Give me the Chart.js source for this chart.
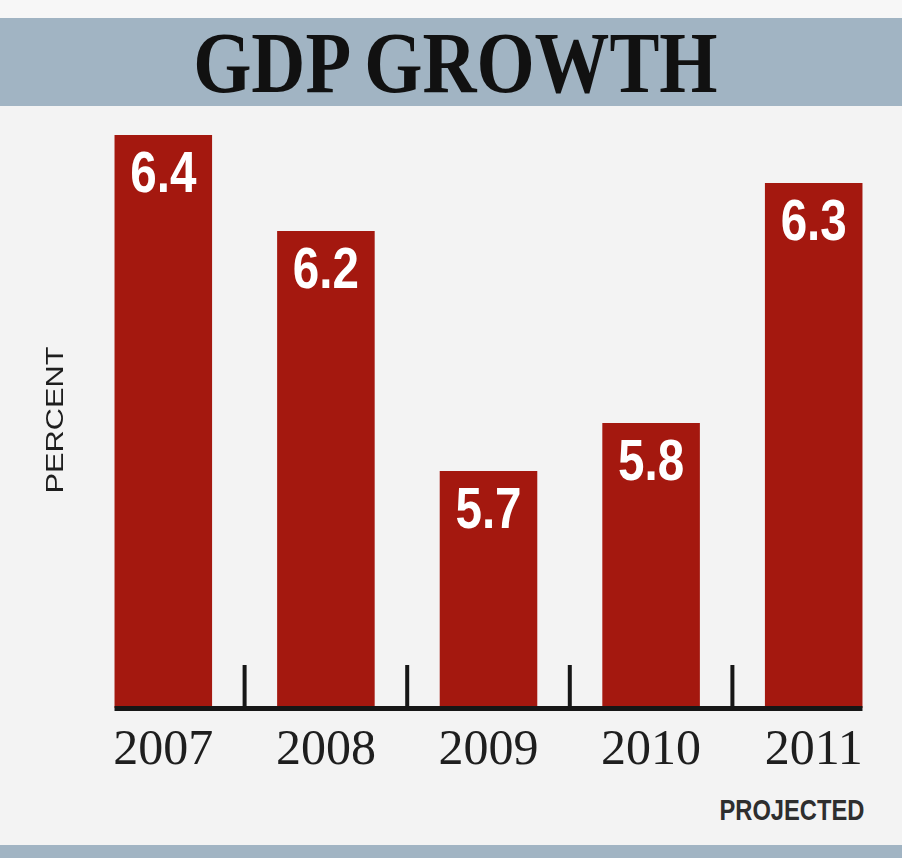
<!DOCTYPE html>
<html>
<head>
<meta charset="utf-8">
<script src="https://cdn.jsdelivr.net/npm/chart.js@4"></script>
<style>
  html, body { margin: 0; padding: 0; }
  body { width: 902px; height: 858px; background: #f3f3f3; position: relative; overflow: hidden; }
  #topstrip { position: absolute; left: 0; top: 0; width: 902px; height: 18px; background: #f7f7f7; }
  #band { position: absolute; left: 0; top: 18px; width: 902px; height: 88px; background: #a1b4c3; }
  #title { position: absolute; left: 0; top: 20px; width: 902px; text-align: center; margin: 0;
    font-family: "Liberation Serif", "DejaVu Serif", serif; font-weight: bold; font-size: 86px; line-height: 86px;
    color: #111; word-spacing: -0.02em; }
  #title span { display: inline-block; transform: scaleX(0.87); transform-origin: center; position: relative; left: 4px; }
  #bottomband { position: absolute; left: 0; top: 845px; width: 902px; height: 13px; background: #a1b4c3; }
  #projected { position: absolute; right: 38px; top: 795px; font-family: "Liberation Sans", sans-serif;
    font-size: 30px; line-height: 30px; color: #2e2e2e; font-weight: bold;
    transform: scaleX(0.79); transform-origin: right center; }
  #wrap { position: absolute; left: 0; top: 0; width: 902px; height: 858px; }
</style>
</head>
<body>
<div id="topstrip"></div>
<div id="band"></div>
<h1 id="title"><span>GDP GROWTH</span></h1>
<div id="bottomband"></div>
<div id="projected">PROJECTED</div>
<div id="wrap"><canvas id="c"></canvas></div>
<script>
const years = ["2007", "2008", "2009", "2010", "2011"];
const growth = [6.4, 6.2, 5.7, 5.8, 6.3];
const valueLabels = ["6.4", "6.2", "5.7", "5.8", "6.3"];
const yAxisLabel = "PERCENT";

const barColor = "#a4180f";

const decorPlugin = {
  id: "decor",
  afterDatasetsDraw(chart) {
    const ctx = chart.ctx;
    const meta = chart.getDatasetMeta(0);
    const xs = chart.scales.x;
    const area = chart.chartArea;
    // value labels inside bars (condensed)
    meta.data.forEach((bar, i) => {
      ctx.save();
      ctx.translate(bar.x, bar.y + 57);
      ctx.scale(0.82, 1);
      ctx.fillStyle = "#ffffff";
      ctx.font = "bold 58px 'Liberation Sans', sans-serif";
      ctx.textAlign = "center";
      ctx.textBaseline = "alphabetic";
      ctx.fillText(valueLabels[i], 0, 0);
      ctx.restore();
    });
    // baseline under the bars
    const first = meta.data[0], last = meta.data[meta.data.length - 1];
    ctx.save();
    ctx.strokeStyle = "#161616";
    ctx.lineWidth = 5;
    ctx.beginPath();
    ctx.moveTo(first.x - first.width / 2, area.bottom + 0.5);
    ctx.lineTo(last.x + last.width / 2, area.bottom + 0.5);
    ctx.stroke();
    // short tick marks between categories
    ctx.lineWidth = 4;
    for (let i = 0; i < years.length - 1; i++) {
      const x = (xs.getPixelForValue(i) + xs.getPixelForValue(i + 1)) / 2;
      ctx.beginPath();
      ctx.moveTo(x, area.bottom - 43);
      ctx.lineTo(x, area.bottom);
      ctx.stroke();
    }
    ctx.restore();
    // rotated axis label
    ctx.save();
    ctx.translate(63, 420);
    ctx.rotate(-Math.PI / 2);
    ctx.scale(1.28, 1);
    ctx.fillStyle = "#1e1e1e";
    ctx.font = "24px 'Liberation Sans', sans-serif";
    ctx.textAlign = "center";
    ctx.textBaseline = "alphabetic";
    ctx.fillText(yAxisLabel, 0, 0);
    ctx.restore();
  }
};

new Chart(document.getElementById("c"), {
  type: "bar",
  data: {
    labels: years,
    datasets: [{
      data: growth,
      backgroundColor: barColor,
      borderWidth: 0,
      barPercentage: 0.6,
      categoryPercentage: 1.0
    }]
  },
  options: {
    responsive: true,
    maintainAspectRatio: false,
    animation: false,
    layout: { padding: { top: 110, left: 82, right: 7, bottom: 64 } },
    plugins: { legend: { display: false }, tooltip: { enabled: false }, title: { display: false } },
    scales: {
      x: {
        grid: { display: false, drawTicks: false },
        border: { display: false },
        ticks: {
          color: "#1e1e1e",
          padding: 13,
          font: { family: "'Liberation Serif', serif", size: 50 }
        }
      },
      y: {
        display: false,
        min: 5.206,
        max: 6.452
      }
    }
  },
  plugins: [decorPlugin]
});
</script>
</body>
</html>
